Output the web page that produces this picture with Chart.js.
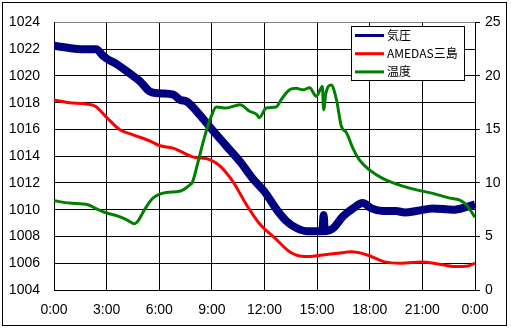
<!DOCTYPE html>
<html>
<head>
<meta charset="utf-8">
<script src="https://cdn.jsdelivr.net/npm/chart.js@4.4.1/dist/chart.umd.min.js"></script>
<style>
  body { margin: 0; background: #fff; }
  canvas { display: block; }
</style>
</head>
<body>
<canvas id="myChart" width="511" height="329"></canvas>
<script>
const seriesLabels = ["気圧", "AMEDAS三島", "温度"];

// hours of day (0-24) and hPa
const pressureHours = [0, 0.8, 1.65, 2.4, 2.8, 3.0, 3.55, 4.3, 4.9, 5.45, 6.0, 6.8, 7.2, 7.55, 8.1, 9.0, 9.8, 10.6, 11.35, 12.0, 12.7, 13.25, 13.8, 14.4, 15.0, 15.3, 15.37, 15.44, 15.9, 16.47, 17.05, 17.6, 18.1, 18.75, 19.5, 20.0, 20.65, 21.6, 22.75, 23.5, 24];
const pressureValues = [1022.25, 1022.1, 1022.0, 1022.0, 1021.5, 1021.3, 1020.9, 1020.2, 1019.6, 1018.85, 1018.7, 1018.6, 1018.2, 1018.1, 1017.4, 1016.0, 1014.8, 1013.6, 1012.3, 1011.35, 1010.0, 1009.15, 1008.65, 1008.4, 1008.4, 1008.4, 1009.6, 1008.4, 1008.6, 1009.5, 1010.1, 1010.5, 1010.1, 1009.9, 1009.9, 1009.8, 1009.9, 1010.1, 1010.0, 1010.2, 1010.4];

const amedasHours = [0, 0.88, 1.84, 2.4, 3.0, 3.74, 4.5, 5.45, 6.0, 6.78, 7.16, 7.9, 8.87, 9.44, 10.2, 10.96, 11.72, 12.58, 13.5, 14.3, 15.2, 16.2, 16.95, 17.9, 18.85, 19.8, 20.95, 21.9, 22.85, 23.6, 24];
const amedasValues = [1018.2, 1018.0, 1017.9, 1017.7, 1016.9, 1016.0, 1015.6, 1015.15, 1014.8, 1014.6, 1014.4, 1013.95, 1013.75, 1013.3, 1012.1, 1010.4, 1008.95, 1007.9, 1006.8, 1006.5, 1006.6, 1006.75, 1006.85, 1006.6, 1006.1, 1006.0, 1006.1, 1005.95, 1005.75, 1005.8, 1006.0];

// temperature, right axis
const tempHours = [0, 0.88, 1.93, 2.4, 2.98, 3.55, 4.1, 4.6, 4.78, 5.16, 5.64, 6.4, 7.16, 7.73, 7.9, 8.2, 8.6, 8.97, 9.25, 9.8, 10.6, 11.15, 11.55, 11.7, 12.1, 12.67, 12.96, 13.43, 13.8, 14.2, 14.57, 14.95, 15.3, 15.37, 15.5, 15.8, 16.1, 16.38, 16.67, 17.05, 17.43, 18.0, 18.76, 19.7, 20.66, 21.6, 22.56, 23.1, 23.5, 23.9, 24];
const tempValues = [8.33, 8.12, 7.97, 7.6, 7.2, 6.96, 6.6, 6.19, 6.43, 7.5, 8.58, 9.1, 9.22, 9.8, 10.1, 11.9, 14.4, 16.24, 17.1, 17.0, 17.3, 16.7, 16.4, 16.1, 17.0, 17.1, 17.8, 18.7, 18.84, 18.7, 18.9, 18.1, 19.0, 16.85, 18.4, 19.15, 17.8, 15.3, 14.7, 13.2, 12.1, 11.2, 10.4, 9.8, 9.35, 9.03, 8.58, 8.43, 7.97, 7.05, 6.8];

const toPoints = (xs, ys) => xs.map((x, i) => ({ x: x, y: ys[i] }));

const frame = {
  id: "frame",
  afterDraw(chart) {
    const c = chart.ctx;
    c.save();
    c.strokeStyle = "#000";
    c.lineWidth = 1;
    c.strokeRect(2.5, 2.5, 504, 323);

    // legend box inside plot
    c.fillStyle = "#fff";
    c.fillRect(351.5, 26.5, 113, 54);
    c.strokeRect(351.5, 26.5, 113, 54);
    c.font = '12px "Noto Sans CJK JP"';
    c.textBaseline = "middle";
    c.textAlign = "left";
    chart.data.datasets.forEach((ds, i) => {
      const y = 35.5 + i * 18.2;
      c.strokeStyle = ds.borderColor;
      c.lineWidth = 3;
      c.beginPath();
      c.moveTo(355, y);
      c.lineTo(384, y);
      c.stroke();
      c.fillStyle = "#000";
      c.fillText(ds.label, 387, y);
    });
    c.restore();
  }
};

const tickFont = { family: "Liberation Sans", size: 14 };

new Chart(document.getElementById("myChart"), {
  type: "line",
  plugins: [frame],
  data: {
    datasets: [
      {
        label: seriesLabels[0],
        data: toPoints(pressureHours, pressureValues),
        borderColor: "#000080",
        borderWidth: 8,
        yAxisID: "y",
        order: 3
      },
      {
        label: seriesLabels[1],
        data: toPoints(amedasHours, amedasValues),
        borderColor: "#ff0000",
        borderWidth: 3,
        yAxisID: "y",
        order: 2
      },
      {
        label: seriesLabels[2],
        data: toPoints(tempHours, tempValues),
        borderColor: "#008000",
        borderWidth: 3,
        yAxisID: "y2",
        order: 1
      }
    ]
  },
  options: {
    responsive: false,
    animation: false,
    devicePixelRatio: 1,
    layout: { padding: { top: 18, left: 0, right: 0, bottom: 0 } },
    elements: {
      point: { radius: 0 },
      line: { cubicInterpolationMode: "monotone", borderJoinStyle: "round" }
    },
    datasets: { line: { clip: 0 } },
    plugins: {
      legend: { display: false },
      tooltip: { enabled: false }
    },
    scales: {
      x: {
        type: "linear",
        min: 0,
        max: 24,
        ticks: {
          stepSize: 3,
          color: "#000",
          font: tickFont,
          padding: 12,
          maxRotation: 0,
          callback: v => (v % 24) + ":00"
        },
        grid: { color: "#000", drawTicks: false },
        border: { color: "#000" },
        afterFit: s => { s.height = 39; }
      },
      y: {
        position: "left",
        min: 1004,
        max: 1024,
        ticks: { stepSize: 2, color: "#000", font: tickFont, padding: 14, callback: v => String(v) },
        grid: {
          color: c => (c.tick && c.tick.value === 1024 ? "#808080" : "#000"),
          drawTicks: false
        },
        border: { color: "#000" },
        afterFit: s => { s.width = 54; }
      },
      y2: {
        position: "right",
        min: 0,
        max: 25,
        ticks: { stepSize: 5, color: "#000", font: tickFont, padding: 5, callback: v => String(v) },
        grid: { drawOnChartArea: false, color: "#000", tickLength: 5 },
        border: { color: "#000" },
        afterFit: s => { s.width = 36; }
      }
    }
  }
});
</script>
</body>
</html>
